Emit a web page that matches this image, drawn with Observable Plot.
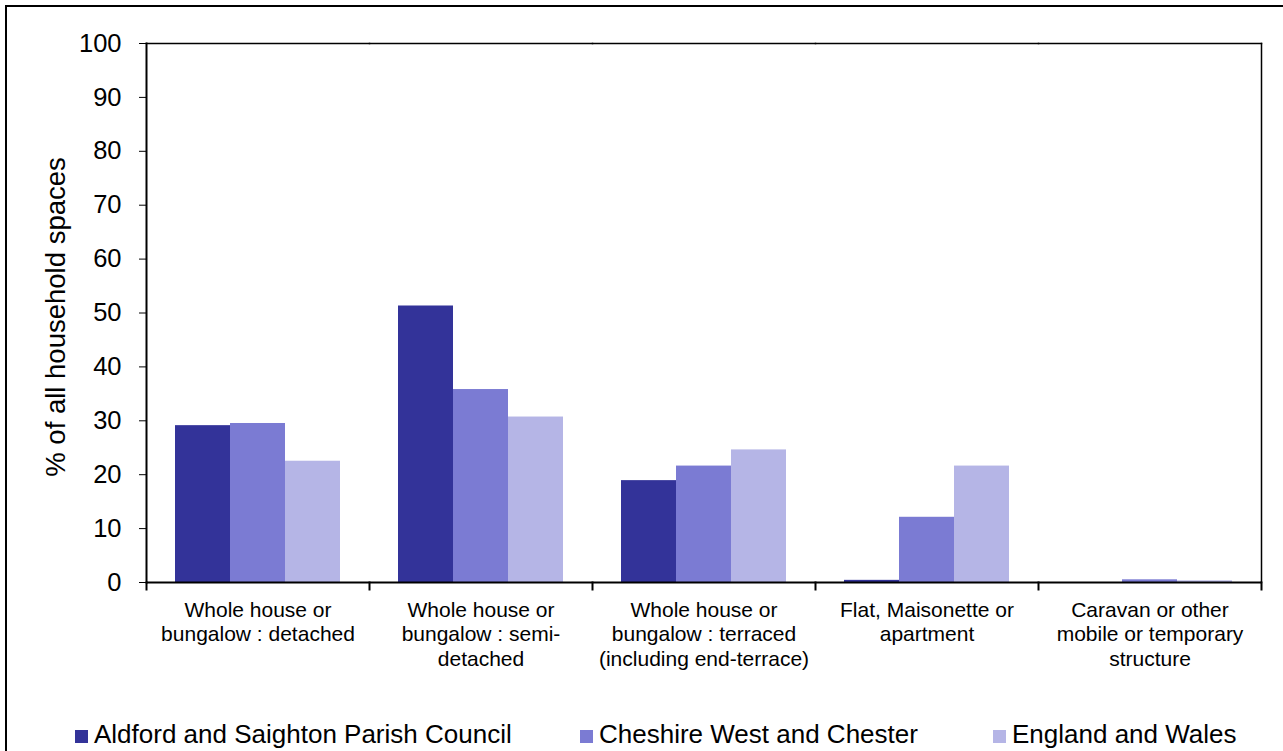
<!DOCTYPE html>
<html>
<head>
<meta charset="utf-8">
<script src="https://cdn.jsdelivr.net/npm/d3@7"></script>
<script src="https://cdn.jsdelivr.net/npm/@observablehq/plot@0.6"></script>
<style>
  html, body { margin: 0; padding: 0; background: #fff; }
  #wrap { position: relative; width: 1283px; height: 751px; overflow: hidden; font-family: "Liberation Sans", Arial, sans-serif; }
  #border { position: absolute; left: 5px; top: 5px; width: 1300px; height: 800px; border-left: 2px solid #000; border-top: 2px solid #000; }
  #chart { position: absolute; left: 0; top: 0; }
  .lg { position: absolute; top: 719px; display: flex; align-items: center; font-size: 26px; color: #000; white-space: nowrap; }
  .lg .sw { width: 13px; height: 13px; margin-right: 6px; margin-top: 3px; }
</style>
</head>
<body>
<div id="wrap">
  <div id="border"></div>
  <div id="chart"></div>
  <div id="legend"></div>
</div>
<script>
const categories = [
  "Whole house or\nbungalow : detached",
  "Whole house or\nbungalow : semi-\ndetached",
  "Whole house or\nbungalow : terraced\n(including end-terrace)",
  "Flat, Maisonette or\napartment",
  "Caravan or other\nmobile or temporary\nstructure"
];
const series = ["Aldford and Saighton Parish Council", "Cheshire West and Chester", "England and Wales"];
const aldford = [29.1, 51.3, 18.9, 0.4, 0.0];
const cheshire = [29.5, 35.8, 21.6, 12.1, 0.5];
const englandWales = [22.5, 30.7, 24.6, 21.6, 0.3];
const colors = ["#333399", "#7B7BD3", "#B5B5E6"];
const yTicks = [0, 10, 20, 30, 40, 50, 60, 70, 80, 90, 100];
const yLabel = "% of all household spaces";

const valuesBySeries = [aldford, cheshire, englandWales];
const data = [];
categories.forEach((c, i) => {
  series.forEach((s, j) => data.push({category: c, series: s, value: valuesBySeries[j][i]}));
});

const H = 700, MT = 43, MB = 118;
const plot = Plot.plot({
  width: 1283,
  height: H,
  marginLeft: 144,
  marginRight: 20,
  marginTop: MT,
  marginBottom: MB,
  style: {fontFamily: "'Liberation Sans', Arial, sans-serif", color: "#000", background: "transparent"},
  fx: {domain: categories, padding: 0, label: null},
  x: {domain: series, paddingInner: 0, paddingOuter: 0.5, axis: null},
  y: {domain: [0, 100], label: null},
  color: {domain: series, range: colors},
  marks: [
    Plot.barY(data, {fx: "category", x: "series", y: "value", fill: "series"}),
    Plot.axisY({ticks: yTicks, tickSize: 7, tickPadding: 18, fontSize: 25.5, label: null, tickFormat: d => d, facetAnchor: "left"}),
    Plot.axisFx({anchor: "bottom", tickSize: 0, tickPadding: 17, fontSize: 21, lineHeight: 1.16, label: null, tickFormat: d => d}),
    Plot.text([yLabel], {frameAnchor: "left", textAnchor: "middle", rotate: -90, dx: -90, dy: 4, fontSize: 27.5, text: d => d, facetAnchor: "left"}),
    Plot.frame({anchor: "top", stroke: "#000", strokeWidth: 1.5}),
    Plot.frame({anchor: "right", stroke: "#000", strokeWidth: 1.5, facetAnchor: "right"}),
    Plot.frame({anchor: "left", stroke: "#000", strokeWidth: 2, facetAnchor: "left"}),
    Plot.ruleY([0], {stroke: "#000", strokeWidth: 2}),
    Plot.frame({anchor: "left", stroke: "#000", strokeWidth: 2, insetTop: H - MT - MB, insetBottom: -7}),
    Plot.frame({anchor: "right", stroke: "#000", strokeWidth: 2, insetTop: H - MT - MB, insetBottom: -7, facetAnchor: "right"})
  ]
});
document.getElementById("chart").appendChild(plot);

const legendLefts = [75, 580, 993];
const legend = document.getElementById("legend");
series.forEach((s, i) => {
  const item = document.createElement("div");
  item.className = "lg";
  item.style.left = legendLefts[i] + "px";
  const sw = document.createElement("span");
  sw.className = "sw";
  sw.style.background = colors[i];
  const tx = document.createElement("span");
  tx.textContent = s;
  item.appendChild(sw);
  item.appendChild(tx);
  legend.appendChild(item);
});
</script>
</body>
</html>
